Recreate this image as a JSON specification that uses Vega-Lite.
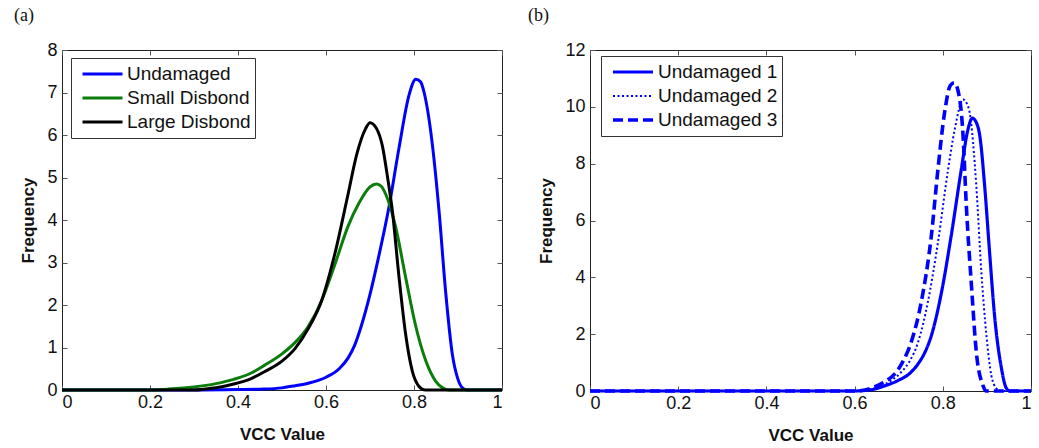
{
  "$schema": "https://vega.github.io/schema/vega-lite/v6.json",
  "padding": {"left": 13, "top": 6, "right": 4, "bottom": 0},
  "spacing": 18,
  "config": {
    "view": {"stroke": "#222", "strokeWidth": 1},
    "axis": {"grid": false, "domain": false, "tickSize": -5, "tickColor": "#555", "tickWidth": 1,
      "labelFont": "Liberation Sans", "labelFontSize": 18, "labelColor": "#111",
      "titleFont": "Liberation Sans", "titleFontSize": 17, "titleFontWeight": "bold", "titleColor": "#111",
      "format": "~g"},
    "axisX": {"labelPadding": 8, "titlePadding": 15},
    "axisY": {"labelPadding": 10, "titlePadding": 9},
    "legend": {"orient": "none", "strokeColor": "#333", "fillColor": "white", "padding": 4,
      "symbolType": "stroke", "symbolSize": 1600, "symbolStrokeWidth": 3, "symbolOffset": 6, "clipHeight": 24,
      "labelFont": "Liberation Sans", "labelFontSize": 19, "labelColor": "#111", "rowPadding": 0, "labelOffset": 3, "cornerRadius": 0},
    "title": {"font": "Liberation Serif", "fontSize": 18, "fontWeight": "normal", "color": "#111", "anchor": "start", "frame": "bounds", "offset": 16}
  },
  "hconcat": [
    {
      "title": {"text": "(a)", "dx": -6},
      "width": 440,
      "height": 340,
      "data": {"values": [
        {"series": "Undamaged", "vcc": 0, "freq": 0},
        {"series": "Undamaged", "vcc": 0.3, "freq": 0},
        {"series": "Undamaged", "vcc": 0.4, "freq": 0.01},
        {"series": "Undamaged", "vcc": 0.45, "freq": 0.02},
        {"series": "Undamaged", "vcc": 0.5, "freq": 0.05},
        {"series": "Undamaged", "vcc": 0.53, "freq": 0.1},
        {"series": "Undamaged", "vcc": 0.56, "freq": 0.16},
        {"series": "Undamaged", "vcc": 0.6, "freq": 0.3},
        {"series": "Undamaged", "vcc": 0.63, "freq": 0.5},
        {"series": "Undamaged", "vcc": 0.65, "freq": 0.75},
        {"series": "Undamaged", "vcc": 0.665, "freq": 1.05},
        {"series": "Undamaged", "vcc": 0.68, "freq": 1.5},
        {"series": "Undamaged", "vcc": 0.7, "freq": 2.25},
        {"series": "Undamaged", "vcc": 0.72, "freq": 3.15},
        {"series": "Undamaged", "vcc": 0.743, "freq": 4.3},
        {"series": "Undamaged", "vcc": 0.766, "freq": 5.7},
        {"series": "Undamaged", "vcc": 0.789, "freq": 6.95},
        {"series": "Undamaged", "vcc": 0.804, "freq": 7.31},
        {"series": "Undamaged", "vcc": 0.815, "freq": 7.25},
        {"series": "Undamaged", "vcc": 0.823, "freq": 7.0},
        {"series": "Undamaged", "vcc": 0.833, "freq": 6.45},
        {"series": "Undamaged", "vcc": 0.842, "freq": 5.75},
        {"series": "Undamaged", "vcc": 0.857, "freq": 4.2},
        {"series": "Undamaged", "vcc": 0.872, "freq": 2.3},
        {"series": "Undamaged", "vcc": 0.887, "freq": 0.85},
        {"series": "Undamaged", "vcc": 0.9, "freq": 0.25},
        {"series": "Undamaged", "vcc": 0.91, "freq": 0.05},
        {"series": "Undamaged", "vcc": 0.92, "freq": 0},
        {"series": "Undamaged", "vcc": 1, "freq": 0},
        {"series": "Small Disbond", "vcc": 0, "freq": 0},
        {"series": "Small Disbond", "vcc": 0.2, "freq": 0},
        {"series": "Small Disbond", "vcc": 0.24, "freq": 0.02},
        {"series": "Small Disbond", "vcc": 0.3, "freq": 0.07},
        {"series": "Small Disbond", "vcc": 0.35, "freq": 0.15},
        {"series": "Small Disbond", "vcc": 0.39, "freq": 0.25},
        {"series": "Small Disbond", "vcc": 0.43, "freq": 0.4},
        {"series": "Small Disbond", "vcc": 0.46, "freq": 0.58},
        {"series": "Small Disbond", "vcc": 0.5, "freq": 0.85},
        {"series": "Small Disbond", "vcc": 0.53, "freq": 1.12},
        {"series": "Small Disbond", "vcc": 0.56, "freq": 1.5},
        {"series": "Small Disbond", "vcc": 0.59, "freq": 2.1},
        {"series": "Small Disbond", "vcc": 0.62, "freq": 2.95},
        {"series": "Small Disbond", "vcc": 0.65, "freq": 3.85},
        {"series": "Small Disbond", "vcc": 0.675, "freq": 4.4},
        {"series": "Small Disbond", "vcc": 0.7, "freq": 4.78},
        {"series": "Small Disbond", "vcc": 0.715, "freq": 4.85},
        {"series": "Small Disbond", "vcc": 0.725, "freq": 4.8},
        {"series": "Small Disbond", "vcc": 0.736, "freq": 4.6},
        {"series": "Small Disbond", "vcc": 0.758, "freq": 3.85},
        {"series": "Small Disbond", "vcc": 0.781, "freq": 2.65},
        {"series": "Small Disbond", "vcc": 0.804, "freq": 1.5},
        {"series": "Small Disbond", "vcc": 0.827, "freq": 0.68},
        {"series": "Small Disbond", "vcc": 0.849, "freq": 0.21},
        {"series": "Small Disbond", "vcc": 0.865, "freq": 0.05},
        {"series": "Small Disbond", "vcc": 0.88, "freq": 0},
        {"series": "Small Disbond", "vcc": 1, "freq": 0},
        {"series": "Large Disbond", "vcc": 0, "freq": 0},
        {"series": "Large Disbond", "vcc": 0.3, "freq": 0},
        {"series": "Large Disbond", "vcc": 0.33, "freq": 0.03},
        {"series": "Large Disbond", "vcc": 0.36, "freq": 0.07},
        {"series": "Large Disbond", "vcc": 0.39, "freq": 0.14},
        {"series": "Large Disbond", "vcc": 0.43, "freq": 0.27},
        {"series": "Large Disbond", "vcc": 0.46, "freq": 0.43},
        {"series": "Large Disbond", "vcc": 0.5, "freq": 0.68},
        {"series": "Large Disbond", "vcc": 0.53, "freq": 0.98},
        {"series": "Large Disbond", "vcc": 0.56, "freq": 1.45},
        {"series": "Large Disbond", "vcc": 0.59, "freq": 2.1},
        {"series": "Large Disbond", "vcc": 0.62, "freq": 3.2},
        {"series": "Large Disbond", "vcc": 0.65, "freq": 4.6},
        {"series": "Large Disbond", "vcc": 0.67, "freq": 5.55},
        {"series": "Large Disbond", "vcc": 0.69, "freq": 6.15},
        {"series": "Large Disbond", "vcc": 0.7, "freq": 6.29},
        {"series": "Large Disbond", "vcc": 0.715, "freq": 6.15},
        {"series": "Large Disbond", "vcc": 0.728, "freq": 5.75},
        {"series": "Large Disbond", "vcc": 0.74, "freq": 5.0},
        {"series": "Large Disbond", "vcc": 0.751, "freq": 4.2},
        {"series": "Large Disbond", "vcc": 0.766, "freq": 2.65},
        {"series": "Large Disbond", "vcc": 0.781, "freq": 1.31},
        {"series": "Large Disbond", "vcc": 0.796, "freq": 0.45},
        {"series": "Large Disbond", "vcc": 0.811, "freq": 0.09},
        {"series": "Large Disbond", "vcc": 0.826, "freq": 0},
        {"series": "Large Disbond", "vcc": 1, "freq": 0}
      ]},
      "layer": [
        {
          "mark": {"type": "line", "strokeWidth": 3, "interpolate": "monotone"},
          "encoding": {
            "x": {"field": "vcc", "type": "quantitative", "scale": {"domain": [0, 1], "nice": false},
              "axis": {"title": "VCC Value", "values": [0, 0.2, 0.4, 0.6, 0.8, 1]}},
            "y": {"field": "freq", "type": "quantitative", "scale": {"domain": [0, 8], "nice": false},
              "axis": {"title": "Frequency", "values": [0, 1, 2, 3, 4, 5, 6, 7, 8]}},
            "color": {"field": "series", "type": "nominal", "sort": null,
              "scale": {"domain": ["Undamaged", "Small Disbond", "Large Disbond"], "range": ["#0000ff", "#0a7d0a", "#000000"]},
              "legend": {"title": null, "legendX": 9, "legendY": 8}}
          }
        },
        {
          "mark": {"type": "line", "strokeOpacity": 0},
          "encoding": {
            "x": {"field": "vcc", "type": "quantitative",
              "axis": {"orient": "top", "title": null, "labels": false, "values": [0, 0.2, 0.4, 0.6, 0.8, 1]}},
            "y": {"field": "freq", "type": "quantitative",
              "axis": {"orient": "right", "title": null, "labels": false, "values": [0, 1, 2, 3, 4, 5, 6, 7, 8]}},
            "detail": {"field": "series", "type": "nominal"}
          }
        }
      ],
      "resolve": {"axis": {"x": "independent", "y": "independent"}}
    },
    {
      "title": {"text": "(b)", "dx": -10},
      "width": 441,
      "height": 341,
      "data": {"values": [
        {"series": "Undamaged 1", "vcc": 0, "freq": 0},
        {"series": "Undamaged 1", "vcc": 0.6, "freq": 0},
        {"series": "Undamaged 1", "vcc": 0.64, "freq": 0.05},
        {"series": "Undamaged 1", "vcc": 0.668, "freq": 0.18},
        {"series": "Undamaged 1", "vcc": 0.7, "freq": 0.38},
        {"series": "Undamaged 1", "vcc": 0.725, "freq": 0.62},
        {"series": "Undamaged 1", "vcc": 0.745, "freq": 0.98},
        {"series": "Undamaged 1", "vcc": 0.76, "freq": 1.38},
        {"series": "Undamaged 1", "vcc": 0.775, "freq": 2.0},
        {"series": "Undamaged 1", "vcc": 0.797, "freq": 3.47},
        {"series": "Undamaged 1", "vcc": 0.819, "freq": 5.46},
        {"series": "Undamaged 1", "vcc": 0.842, "freq": 7.8},
        {"series": "Undamaged 1", "vcc": 0.857, "freq": 9.2},
        {"series": "Undamaged 1", "vcc": 0.867, "freq": 9.6},
        {"series": "Undamaged 1", "vcc": 0.876, "freq": 9.45},
        {"series": "Undamaged 1", "vcc": 0.884, "freq": 8.97},
        {"series": "Undamaged 1", "vcc": 0.895, "freq": 7.2},
        {"series": "Undamaged 1", "vcc": 0.906, "freq": 4.9},
        {"series": "Undamaged 1", "vcc": 0.918, "freq": 2.55},
        {"series": "Undamaged 1", "vcc": 0.933, "freq": 0.8},
        {"series": "Undamaged 1", "vcc": 0.944, "freq": 0.1},
        {"series": "Undamaged 1", "vcc": 0.952, "freq": 0},
        {"series": "Undamaged 1", "vcc": 1, "freq": 0},
        {"series": "Undamaged 2", "vcc": 0, "freq": 0},
        {"series": "Undamaged 2", "vcc": 0.6, "freq": 0},
        {"series": "Undamaged 2", "vcc": 0.64, "freq": 0.07},
        {"series": "Undamaged 2", "vcc": 0.67, "freq": 0.25},
        {"series": "Undamaged 2", "vcc": 0.706, "freq": 0.67},
        {"series": "Undamaged 2", "vcc": 0.725, "freq": 1.05},
        {"series": "Undamaged 2", "vcc": 0.744, "freq": 1.72},
        {"series": "Undamaged 2", "vcc": 0.766, "freq": 3.12},
        {"series": "Undamaged 2", "vcc": 0.789, "freq": 5.23},
        {"series": "Undamaged 2", "vcc": 0.812, "freq": 7.8},
        {"series": "Undamaged 2", "vcc": 0.827, "freq": 9.2},
        {"series": "Undamaged 2", "vcc": 0.846, "freq": 10.26},
        {"series": "Undamaged 2", "vcc": 0.855, "freq": 10.1},
        {"series": "Undamaged 2", "vcc": 0.861, "freq": 9.79},
        {"series": "Undamaged 2", "vcc": 0.876, "freq": 7.22},
        {"series": "Undamaged 2", "vcc": 0.887, "freq": 4.29},
        {"series": "Undamaged 2", "vcc": 0.899, "freq": 1.95},
        {"series": "Undamaged 2", "vcc": 0.91, "freq": 0.55},
        {"series": "Undamaged 2", "vcc": 0.921, "freq": 0.1},
        {"series": "Undamaged 2", "vcc": 0.93, "freq": 0},
        {"series": "Undamaged 2", "vcc": 1, "freq": 0},
        {"series": "Undamaged 3", "vcc": 0, "freq": 0},
        {"series": "Undamaged 3", "vcc": 0.6, "freq": 0},
        {"series": "Undamaged 3", "vcc": 0.638, "freq": 0.1},
        {"series": "Undamaged 3", "vcc": 0.665, "freq": 0.3},
        {"series": "Undamaged 3", "vcc": 0.691, "freq": 0.6},
        {"series": "Undamaged 3", "vcc": 0.71, "freq": 1.05},
        {"series": "Undamaged 3", "vcc": 0.729, "freq": 1.75},
        {"series": "Undamaged 3", "vcc": 0.751, "freq": 3.12},
        {"series": "Undamaged 3", "vcc": 0.774, "freq": 5.46},
        {"series": "Undamaged 3", "vcc": 0.789, "freq": 7.8},
        {"series": "Undamaged 3", "vcc": 0.804, "freq": 9.79},
        {"series": "Undamaged 3", "vcc": 0.817, "freq": 10.75},
        {"series": "Undamaged 3", "vcc": 0.826, "freq": 10.85},
        {"series": "Undamaged 3", "vcc": 0.834, "freq": 10.6},
        {"series": "Undamaged 3", "vcc": 0.846, "freq": 8.97},
        {"series": "Undamaged 3", "vcc": 0.853, "freq": 6.63},
        {"series": "Undamaged 3", "vcc": 0.865, "freq": 3.71},
        {"series": "Undamaged 3", "vcc": 0.876, "freq": 1.37},
        {"series": "Undamaged 3", "vcc": 0.891, "freq": 0.2},
        {"series": "Undamaged 3", "vcc": 0.898, "freq": 0},
        {"series": "Undamaged 3", "vcc": 1, "freq": 0}
      ]},
      "layer": [
        {
          "mark": {"type": "line", "color": "#0000ff", "interpolate": "monotone"},
          "encoding": {
            "x": {"field": "vcc", "type": "quantitative", "scale": {"domain": [0, 1], "nice": false},
              "axis": {"title": "VCC Value", "values": [0, 0.2, 0.4, 0.6, 0.8, 1]}},
            "y": {"field": "freq", "type": "quantitative", "scale": {"domain": [0, 12], "nice": false},
              "axis": {"title": "Frequency", "values": [0, 2, 4, 6, 8, 10, 12]}},
            "strokeDash": {"field": "series", "type": "nominal", "sort": null,
              "scale": {"domain": ["Undamaged 1", "Undamaged 2", "Undamaged 3"], "range": [[1, 0], [2, 2.5], [10, 5]]},
              "legend": {"title": null, "symbolStrokeColor": "#0000ff", "legendX": 539, "legendY": 6}},
            "strokeWidth": {"field": "series", "type": "nominal", "sort": null,
              "scale": {"type": "ordinal", "domain": ["Undamaged 1", "Undamaged 2", "Undamaged 3"], "range": [3.2, 2, 3.6]},
              "legend": {"title": null, "symbolStrokeColor": "#0000ff", "legendX": 539, "legendY": 6}}
          }
        },
        {
          "mark": {"type": "line", "strokeOpacity": 0},
          "encoding": {
            "x": {"field": "vcc", "type": "quantitative",
              "axis": {"orient": "top", "title": null, "labels": false, "values": [0, 0.2, 0.4, 0.6, 0.8, 1]}},
            "y": {"field": "freq", "type": "quantitative",
              "axis": {"orient": "right", "title": null, "labels": false, "values": [0, 2, 4, 6, 8, 10, 12]}},
            "detail": {"field": "series", "type": "nominal"}
          }
        }
      ],
      "resolve": {"axis": {"x": "independent", "y": "independent"}}
    }
  ]
}
